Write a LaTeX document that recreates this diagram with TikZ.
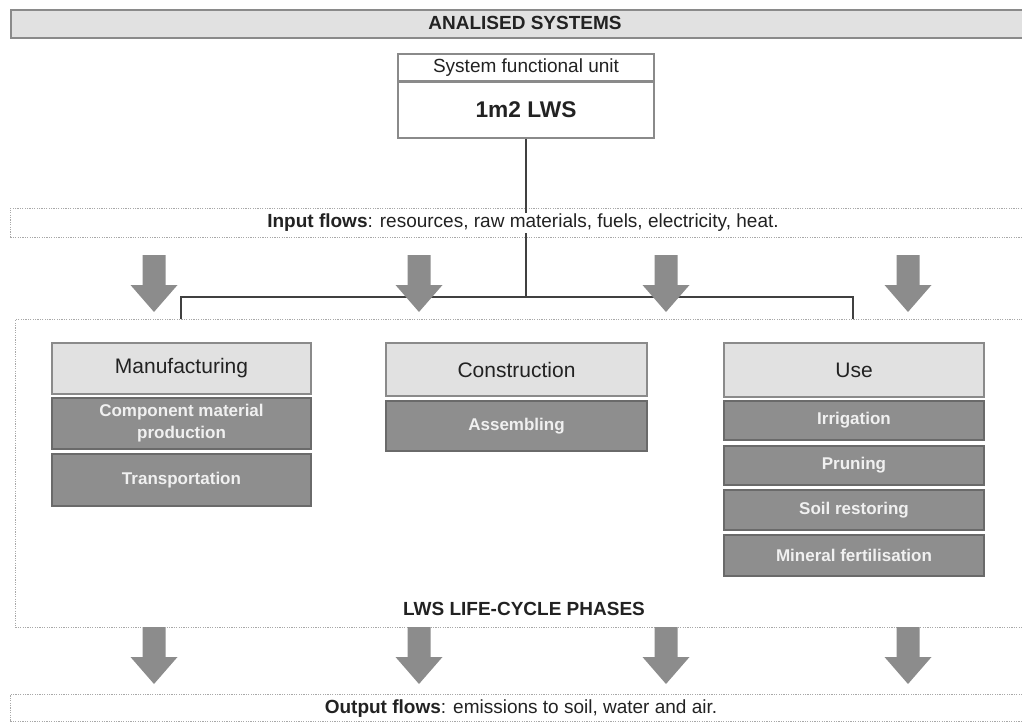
\documentclass[tikz,border=0pt]{standalone}
\usepackage{fontspec}
\setmainfont{Liberation Sans}
\definecolor{lightfill}{HTML}{E1E1E1}
\definecolor{boxborder}{HTML}{8A8A8A}
\definecolor{darkfill}{HTML}{8E8E8E}
\definecolor{darkborder}{HTML}{6A6A6A}
\definecolor{dotcol}{HTML}{A8A8A8}
\definecolor{arrowcol}{HTML}{8C8C8C}
\definecolor{subtext}{HTML}{F0F0F0}
\definecolor{linecol}{HTML}{404040}
\definecolor{txtcol}{HTML}{222222}
\tikzset{
  titlebox/.style={draw=boxborder, line width=2pt, fill=lightfill, inner sep=0pt},
  boldlabel/.style={font=\fontsize{19}{22}\selectfont\bfseries, text=txtcol, inner sep=1pt},
  unitbox/.style={draw=boxborder, line width=1.5pt, fill=white, inner sep=0pt, text=txtcol},
  flowbox/.style={draw=dotcol, line width=0.9pt, dash pattern=on 1.2pt off 1.2pt},
  headbox/.style={draw=boxborder, line width=1.8pt, fill=lightfill, inner sep=0pt,
    font=\fontsize{21}{24}\selectfont, text=txtcol},
  subbox/.style={draw=darkborder, line width=1.5pt, fill=darkfill, inner sep=0pt,
    font=\fontsize{17}{22}\selectfont\bfseries, text=subtext, align=center},
  flowtext/.style={font=\fontsize{19}{22}\selectfont, text=txtcol, inner sep=1pt},
  connector/.style={draw=linecol, line width=1.1pt},
  flowarrow/.pic={\fill[arrowcol] (-11.5,0) -- (11.5,0) -- (11.5,30) -- (23.5,30) -- (0,57)
     -- (-23.5,30) -- (-11.5,30) -- cycle;}
}
\begin{document}
\begin{tikzpicture}[x=1pt,y=-1pt]
\useasboundingbox (0,0) rectangle (1022,722);
\begin{scope}
\clip (0,0) rectangle (1022,722);
% title bar
\node[titlebox, minimum width=1030pt, minimum height=28pt, anchor=north west] (title) at (10,9) {};
\node[boldlabel] (titletext) at (525,23) {ANALISED SYSTEMS};
% functional unit
\node[unitbox, minimum width=256pt, minimum height=27pt, font=\fontsize{19}{22}\selectfont] (sfu) at (526,67.5) {System functional unit};
\node[unitbox, minimum width=256pt, minimum height=56pt, font=\fontsize{22.7}{26}\selectfont\bfseries] (lws) at (526,110) {1m2 LWS};
% input flows
\node[flowbox, minimum width=1030pt, minimum height=29pt, anchor=north west] (inbox) at (10,208) {};
\coordinate (bk) at (526,297);
\coordinate (bkl) at (181,297);
\coordinate (bkr) at (853,297);
\coordinate (bklb) at (181,319);
\coordinate (bkrb) at (853,319);
\draw[connector] (lws.south) -- (bk);
\draw[connector] (bklb) -- (bkl) -- (bkr) -- (bkrb);
\node[flowtext, fill=white] (intext) at (523,223) {\textbf{Input flows}: resources, raw materials, fuels, electricity, heat.};
% input arrows
\pic at (154,255) {flowarrow};
\pic at (419,255) {flowarrow};
\pic at (666,255) {flowarrow};
\pic at (908,255) {flowarrow};
% life-cycle box
\node[flowbox, minimum width=1030pt, minimum height=308pt, anchor=north west] (lc) at (15,319) {};
\node[boldlabel] (lctext) at (524,609) {LWS LIFE-CYCLE PHASES};
% manufacturing
\node[headbox, minimum width=259pt, minimum height=51pt] (man) at (181.5,368.5) {Manufacturing};
\node[subbox, minimum width=259pt, minimum height=51pt] (man1) at (181.5,423.5) {Component material\\production};
\node[subbox, minimum width=259pt, minimum height=52pt] (man2) at (181.5,480) {Transportation};
% construction
\node[headbox, minimum width=261pt, minimum height=53pt] (con) at (516.5,369.5) {Construction};
\node[subbox, minimum width=261pt, minimum height=50pt] (con1) at (516.5,426) {Assembling};
% use
\node[headbox, minimum width=260pt, minimum height=54pt] (use) at (854,370) {Use};
\node[subbox, minimum width=260pt, minimum height=39pt] (use1) at (854,420.5) {Irrigation};
\node[subbox, minimum width=260pt, minimum height=39pt] (use2) at (854,465.5) {Pruning};
\node[subbox, minimum width=260pt, minimum height=40pt] (use3) at (854,510) {Soil restoring};
\node[subbox, minimum width=260pt, minimum height=41pt] (use4) at (854,555.5) {Mineral fertilisation};
% output arrows
\pic at (154,627) {flowarrow};
\pic at (419,627) {flowarrow};
\pic at (666,627) {flowarrow};
\pic at (908,627) {flowarrow};
% output flows
\node[flowbox, minimum width=1030pt, minimum height=27pt, anchor=north west] (outbox) at (10,694) {};
\node[flowtext] (outtext) at (521,708.5) {\textbf{Output flows}: emissions to soil, water and air.};
\end{scope}
\end{tikzpicture}
\end{document}
